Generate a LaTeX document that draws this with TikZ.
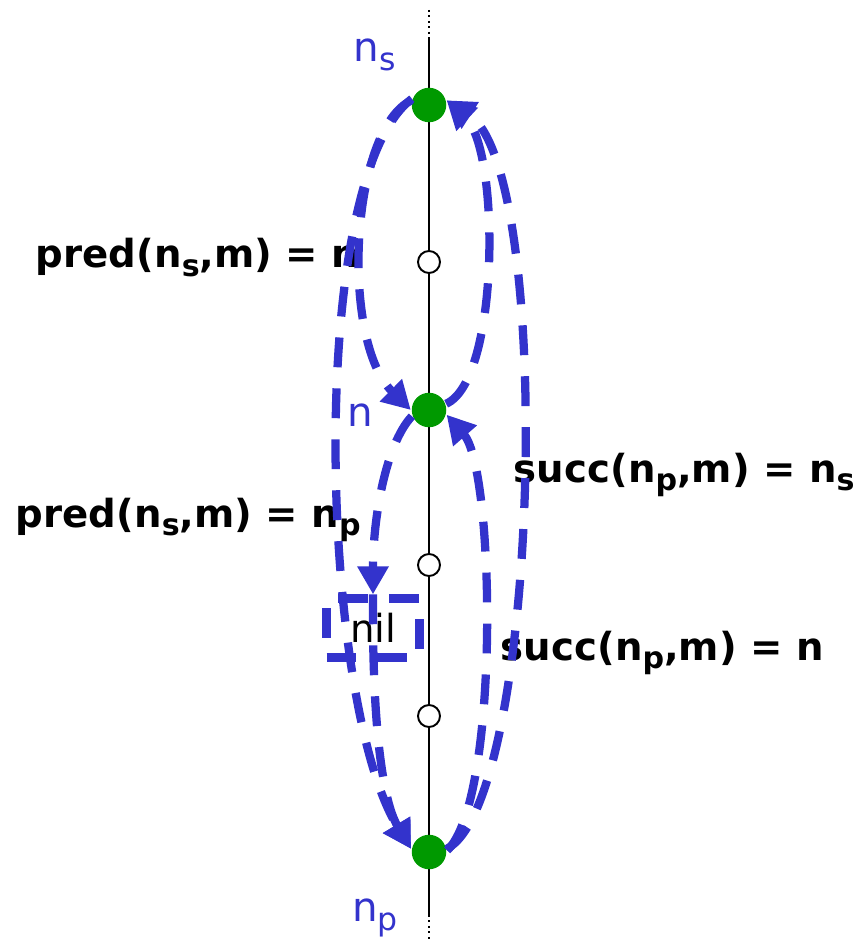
\documentclass[tikz,border=0pt]{standalone}
\usepackage{fontspec}
\setmainfont{DejaVu Sans}
\usetikzlibrary{arrows.meta, positioning}
\definecolor{cflow}{HTML}{3333CC}
\definecolor{cgreen}{HTML}{009900}
\newcommand{\lo}[1]{\raisebox{-0.4ex}{\scalebox{0.78}{#1}}}
\tikzset{
  every picture/.style={line width=1.1pt},
  fullnode/.style={circle, fill=cgreen, inner sep=0pt, minimum size=0.69cm},
  emptynode/.style={circle, draw=black, fill=white, inner sep=0pt, minimum size=0.44cm},
  flow/.style={draw=cflow, line width=4.7pt, dash pattern=on 17pt off 12pt,
               -{Triangle[length=16pt, width=17pt]}},
  nilbox/.style={draw=cflow, line width=4.7pt, dash pattern=on 17pt off 12pt,
                 minimum width=1.86cm, minimum height=1.18cm, font=\fontsize{22}{26}\selectfont},
  eqn/.style={font=\fontsize{22}{26}\selectfont\bfseries, inner sep=0pt},
  tag/.style={font=\fontsize{23}{27}\selectfont, text=cflow, inner sep=0pt},
}

\begin{document}
\begin{tikzpicture}[x=0.02cm, y=-0.02cm]
  \useasboundingbox (0,0) rectangle (852,942);

  % the list
  \coordinate (top) at (429,10);
  \coordinate (topend) at (429,38);
  \coordinate (botend) at (429,915);
  \coordinate (bot) at (429,942);
  \draw[dotted] (top) -- (topend);
  \draw (topend) -- (botend);
  \draw[dotted] (botend) -- (bot);

  \node[fullnode] (ns) at (429,105) {};
  \node[emptynode] (e1) at (429,262) {};
  \node[fullnode] (n) at (429,410) {};
  \node[emptynode] (e2) at (429,565) {};
  \node[emptynode] (e3) at (429,716) {};
  \node[fullnode] (np) at (429,852) {};

  \node[tag] (lns) at (375,55) {n\lo{s}};
  \node[tag] (ln) at (360,415) {n};
  \node[tag] (lnp) at (375,918) {n\lo{p}};

  \node[eqn, anchor=base west] (predn) at (35,268) {pred(n\lo{s},m) = n};
  \node[eqn, anchor=base west] (prednp) at (15,527) {pred(n\lo{s},m) = n\lo{p}};
  \node[eqn, anchor=base west] (succns) at (513,482) {succ(n\lo{p},m) = n\lo{s}};
  \node[eqn, anchor=base west] (succn) at (500,660) {succ(n\lo{p},m) = n};

  \node[nilbox] (nil) at (373,628) {nil};

  % pred pointers
  \draw[flow] (ns.165) .. controls (350,130) and (340,340) .. (n.west);
  \draw[flow] (ns.160) .. controls (305,180) and (320,700) .. (np.170);
  \draw[flow] (n.200) .. controls (385,445) and (373,520) .. (nil.north);
  \draw[flow] (nil.north) .. controls (372,720) and (382,800) .. (np.170);
  % succ pointers
  \draw[flow] (n.20) .. controls (500,380) and (500,150) .. (ns.15);
  \draw[flow] (np.10) .. controls (540,800) and (555,170) .. (ns.15);
  \draw[flow] (np.5) .. controls (500,800) and (495,470) .. (n.-15);
\end{tikzpicture}
\end{document}
